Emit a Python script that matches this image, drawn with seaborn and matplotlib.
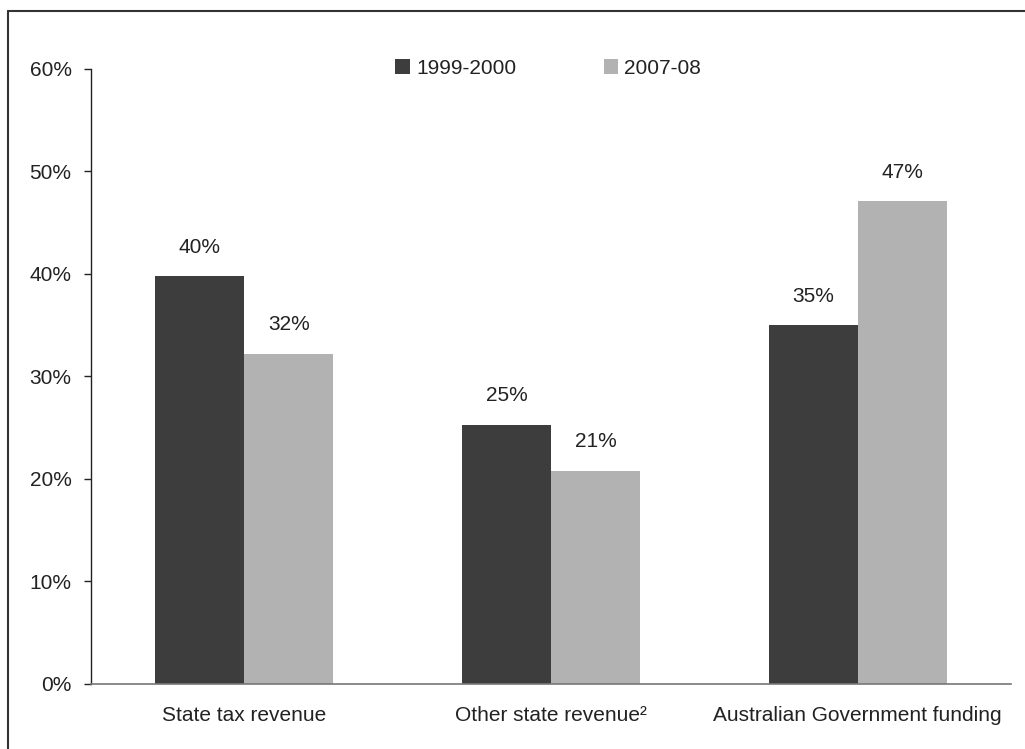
import matplotlib
matplotlib.use("Agg")
import matplotlib.pyplot as plt
from matplotlib.lines import Line2D
from matplotlib.ticker import PercentFormatter
import seaborn as sns
import pandas as pd

# Share of total state revenue by source
categories = ["State tax revenue", "Other state revenue\u00b2", "Australian Government funding"]
years = ["1999-2000", "2007-08"]
share_1999 = [39.8, 25.3, 35.0]
share_2007 = [32.2, 20.8, 47.1]
labels_1999 = ["40%", "25%", "35%"]
labels_2007 = ["32%", "21%", "47%"]
colors = ["#3d3d3d", "#b2b2b2"]

df = pd.DataFrame({
    "category": categories * 2,
    "year": [years[0]] * 3 + [years[1]] * 3,
    "share": share_1999 + share_2007,
})

FS = 15

sns.set_theme(style="white")
plt.rcParams["font.family"] = ["Liberation Sans", "DejaVu Sans"]
plt.rcParams["font.size"] = FS

fig = plt.figure(figsize=(10.25, 7.49), dpi=100)
ax = fig.add_axes([0.0888, 0.0868, 0.8975, 0.8212])

sns.barplot(data=df, x="category", y="share", hue="year", order=categories,
            hue_order=years, palette=colors, width=0.58, gap=0, saturation=1,
            edgecolor="none", linewidth=0, ax=ax)

for container, labels in zip(ax.containers, [labels_1999, labels_2007]):
    ax.bar_label(container, labels=labels, padding=14, fontsize=FS, color="#222222")

ax.set_xlim(-0.5, 2.5)
ax.set_ylim(0, 60)
ax.set_yticks(range(0, 61, 10))
ax.yaxis.set_major_formatter(PercentFormatter(decimals=0))
ax.set_xlabel("")
ax.set_ylabel("")

for side in ["top", "right"]:
    ax.spines[side].set_visible(False)
ax.spines["left"].set_color("#222222")
ax.spines["left"].set_linewidth(1.0)
ax.spines["bottom"].set_color("#777777")
ax.spines["bottom"].set_linewidth(1.2)

ax.tick_params(axis="y", which="major", left=True, length=5, width=1,
               color="#222222", pad=9, labelsize=FS, labelcolor="#222222")
ax.tick_params(axis="x", length=0, pad=16, labelsize=FS, labelcolor="#222222")

leg = ax.legend(loc="upper center", bbox_to_anchor=(0.497, 1.04), ncol=2,
                frameon=False, handlelength=0.7, handleheight=0.7,
                handletextpad=0.3, columnspacing=4.2, fontsize=FS,
                borderpad=0.2)
for t in leg.get_texts():
    t.set_color("#222222")

# Frame around the figure (left and top edges)
W, H = 1025, 749
fig.add_artist(Line2D([8 / W, 8 / W], [0, 1 - 11 / H], transform=fig.transFigure,
                      color="#333333", linewidth=1.5))
fig.add_artist(Line2D([8 / W, 1], [1 - 11 / H, 1 - 11 / H], transform=fig.transFigure,
                      color="#333333", linewidth=1.5))

fig.savefig("out.png", dpi=100)
